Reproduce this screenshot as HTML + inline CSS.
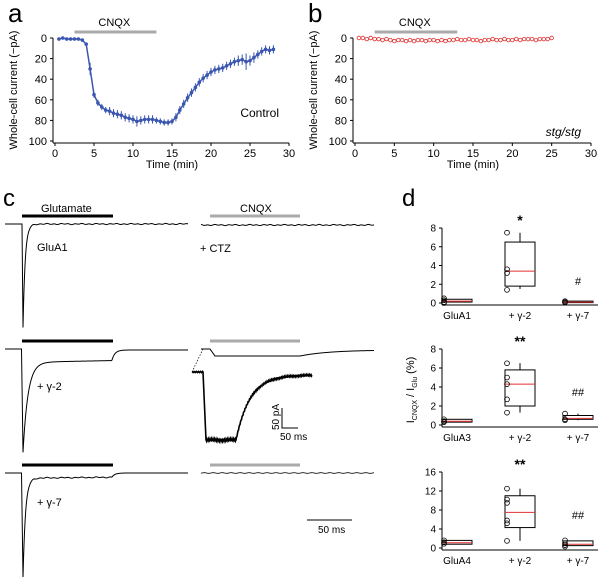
<!DOCTYPE html>
<html><head><meta charset="utf-8"><style>
body{margin:0;background:#fff}
svg{display:block;font-family:"Liberation Sans",sans-serif}
</style></head><body>
<svg id="fig" width="600" height="577" viewBox="0 0 600 577">
<g id="pa"></g>
<g id="pb"></g>
<g id="pc"></g>
<g id="pd"></g>
</svg>
<script>
const aTime=[0.5,1,1.5,2,2.5,3,3.5,4,4.5,5,5.5,6,6.5,7,7.5,8,8.5,9,9.5,10,10.5,11,11.5,12,12.5,13,13.5,14,14.5,15,15.5,16,16.5,17,17.5,18,18.5,19,19.5,20,20.5,21,21.5,22,22.5,23,23.5,24,24.5,25,25.5,26,26.5,27,27.5,28];
const aCurrent=[1,0,1,1,1,1,2,6,30,55,63,67,70,71,73,74,75,77,78,79,81,80,79,79,79,80,81,82,82,81,77,70,64,58,53,48,43,39,36,33,31,30,29,27,25,23,22,21,23,22,19,16,13,11,12,11];
const aErr=[1,1,1,1,1,1,1,1,6,3,3,3,3,4,4,4,4,4,4,4,5,4,4,4,4,3,3,3,3,3,4,4,4,4,4,4,4,4,4,4,4,4,4,4,4,4,5,5,8,5,5,4,4,4,4,4];
const bTime=[0.5,1,1.5,2,2.5,3,3.5,4,4.5,5,5.5,6,6.5,7,7.5,8,8.5,9,9.5,10,10.5,11,11.5,12,12.5,13,13.5,14,14.5,15,15.5,16,16.5,17,17.5,18,18.5,19,19.5,20,20.5,21,21.5,22,22.5,23,23.5,24,24.5,25];
const bCurrent=[0,0,1,0,1,1,2,1,2,3,2,2,3,2,3,2,2,3,2,2,3,2,3,2,2,1,2,2,1,2,2,3,2,2,1,2,2,1,2,2,1,2,1,1,1,2,1,1,1,0];
const timeTicks=[0,5,10,15,20,25,30];
const currTicks=[0,20,40,60,80,100];
const dCats=["GluA1","+ γ-2","+ γ-7"];
const dBaseLabels=["GluA1","GluA3","GluA4"];
const dBoxes=[ // [q1, median, q3, whiskerLo, whiskerHi]
 [[0.1,0.2,0.4,0.1,0.4],[1.8,3.4,6.5,1.5,7.5],[0.05,0.1,0.2,0.05,0.2]],
 [[0.3,0.4,0.6,0.3,0.6],[2.0,4.3,5.8,1.3,6.5],[0.6,0.7,1.0,0.5,1.2]],
 [[0.8,1.1,1.6,0.8,1.6],[4.3,7.5,11,1.5,12.5],[0.5,0.8,1.5,0.5,1.5]]];
const dPoints=[
 [[0.5,0.3,0.1,0.0],[7.5,3.6,3.2,1.4],[0.2,0.1,0.05]],
 [[0.6,0.4,0.3],[6.5,5.0,4.3,2.7,1.3],[1.2,0.6,0.5]],
 [[1.6,1.2,0.9],[12.5,10.2,9.5,5.8,5.2,1.5],[1.6,1.0,0.6,0.3]]];
const dMax=[8,8,16];
const dTicks=[[0,2,4,6,8],[0,2,4,6,8],[0,4,8,12,16]];
const dSig=[["","*","#"],["","**","##"],["","**","##"]];

const NS="http://www.w3.org/2000/svg";
function mk(parent,tag,attrs,name,text){const e=document.createElementNS(NS,tag);for(const k in attrs)e.setAttribute(k,attrs[k]);


if(text!==undefined)e.textContent=text;parent.appendChild(e);return e;}

function timePanel(g,x0,x1,letter,color,times,vals,errs,label,italic){
 const sx=t=>x0+(t/30)*(x1-x0), sy=v=>38+v*1.03;
 mk(g,'text',{x:x0-47,y:22,'font-size':26},'panel-letter',letter);
 mk(g,'line',{x1:x0-2,y1:sy(0),x2:x0-2,y2:143,stroke:'#000','stroke-width':1},'y-axis');
 mk(g,'line',{x1:x0-2,y1:143,x2:x1,y2:143,stroke:'#000','stroke-width':1},'x-axis');
 currTicks.forEach(v=>{mk(g,'line',{x1:x0-5,y1:sy(v),x2:x0-2,y2:sy(v),stroke:'#000'},'y-tick');
  mk(g,'text',{x:x0-8,y:sy(v)+4,'font-size':11,'text-anchor':'end'},'y-tick-label',v);});
 timeTicks.forEach(t=>{mk(g,'line',{x1:sx(t),y1:143,x2:sx(t),y2:146,stroke:'#000'},'x-tick');
  mk(g,'text',{x:sx(t),y:157,'font-size':11,'text-anchor':'middle'},'x-tick-label',t);});
 mk(g,'text',{x:(x0+x1)/2,y:168,'font-size':11,'text-anchor':'middle'},'x-axis-title','Time (min)');
 mk(g,'text',{x:0,y:0,'font-size':11,'text-anchor':'middle',transform:`translate(${x0-38},90) rotate(-90)`},'y-axis-title','Whole-cell current (−pA)');
 mk(g,'line',{x1:sx(2.5),y1:32,x2:sx(13),y2:32,stroke:'#aaa','stroke-width':3},'cnqx-bar');
 mk(g,'text',{x:sx(7.6),y:26,'font-size':11,'text-anchor':'middle'},'cnqx-label','CNQX');
 if(errs){
  times.forEach((t,i)=>{mk(g,'line',{x1:sx(t),y1:sy(vals[i]-errs[i]),x2:sx(t),y2:sy(vals[i]+errs[i]),stroke:color,'stroke-width':1},'error-bar');});
  mk(g,'polyline',{points:times.map((t,i)=>sx(t)+','+sy(vals[i])).join(' '),fill:'none',stroke:color,'stroke-width':1.5},'series-line');
  times.forEach((t,i)=>mk(g,'circle',{cx:sx(t),cy:sy(vals[i]),r:1.8,fill:color},'data-point'));
 } else {
  times.forEach((t,i)=>mk(g,'circle',{cx:sx(t),cy:sy(vals[i]),r:1.8,fill:'none',stroke:color,'stroke-width':0.8},'data-point'));
 }
 mk(g,'text',{x:x1-10,y:italic?136:117,'font-size':12,'text-anchor':'end','font-style':italic?'italic':'normal'},'condition-label',label);
}
timePanel(document.getElementById('pa'),55,289,'a','#3a56b0',aTime,aCurrent,aErr,'Control',false);
timePanel(document.getElementById('pb'),355,591,'b','#e03030',bTime,bCurrent,null,'stg/stg',true);

const pc=document.getElementById('pc');
mk(pc,'text',{x:3,y:206,'font-size':24},'panel-letter','c');
function trace(fn,x0,x1,w,name){let p='';for(let x=x0;x<=x1;x+=0.5){p+=(p?'L':'M')+x.toFixed(1)+','+fn(x).toFixed(2);}mk(pc,'path',{d:p,fill:'none',stroke:'#000','stroke-width':w},name);}
const rows=[224,349,473];
const rowLabels=["GluA1","+ γ-2","+ γ-7"];
rows.forEach((r,i)=>{
 mk(pc,'line',{x1:22,y1:r-8,x2:113,y2:r-8,stroke:'#000','stroke-width':3},'glutamate-bar');
 mk(pc,'line',{x1:210,y1:r-8,x2:300,y2:r-8,stroke:'#aaa','stroke-width':3},'cnqx-bar');
 mk(pc,'text',{x:37,y:[251,390,506][i],'font-size':11},'trace-label',rowLabels[i]);
});
const nz=x=>0.35*Math.sin(x*0.9)+0.25*Math.sin(x*0.37);
trace(x=>{if(x<22)return 224;if(x<23)return 224+103*(x-22);return 224+103*Math.exp(-(x-23)/2.2)+nz(x);},5,188,1,'trace-glua1');
trace(x=>{if(x<21.5)return 349;if(x<23)return 349+103*(x-21.5)/1.5;if(x<112)return 362-0.02*(x-40)+90*Math.exp(-(x-23)/5);return 350+10*Math.exp(-(x-112)/3);},5,188,1,'trace-gamma2');
trace(x=>{if(x<21.5)return 473;if(x<23)return 473+104*(x-21.5)/1.5;if(x<112)return 478-0.01*(x-35)+99*Math.exp(-(x-23)/2.5)+nz(x);return 473+4*Math.exp(-(x-112)/3);},5,188,1,'trace-gamma7');
trace(x=>225+nz(x),201,374,1,'trace-ctz-cnqx');
trace(x=>{if(x<210)return 349;if(x<215)return 349+7*(x-210)/5;if(x<300)return 356;return 356-6*(1-Math.exp(-(x-300)/30));},201,374,1,'trace-gamma2-cnqx');
trace(x=>473+0.3*Math.sin(x*0.7),201,374,0.8,'trace-gamma7-cnqx');
mk(pc,'line',{x1:192,y1:372,x2:203,y2:349,stroke:'#000','stroke-width':0.7,'stroke-dasharray':'1.5,1.5'},'zoom-connector');
trace(x=>{if(x<203)return 372+Math.sin(x*3)*0.6;if(x<206)return 372+68*(x-203)/3;if(x<236)return 440+Math.sin(x*4.3)*1.2;return 375+65*Math.exp(-(x-236)/14)+Math.sin(x*4.3)*0.8;},192,312,1.6,'inset-trace');
mk(pc,'path',{d:'M282,408 L282,428 L298,428',fill:'none',stroke:'#000','stroke-width':1},'scale-bar');
mk(pc,'text',{x:0,y:0,'font-size':10,transform:'translate(279,430) rotate(-90)'},'scale-label-pa','50 pA');
mk(pc,'text',{x:280,y:440,'font-size':10},'scale-label-ms','50 ms');
mk(pc,'line',{x1:307,y1:520,x2:352,y2:520,stroke:'#000','stroke-width':1},'scale-bar-ms');
mk(pc,'text',{x:318,y:533,'font-size':10},'scale-label-ms','50 ms');
mk(pc,'text',{x:41,y:212,'font-size':11},'glutamate-label','Glutamate');
mk(pc,'text',{x:240,y:212,'font-size':11},'cnqx-label','CNQX');
mk(pc,'text',{x:200,y:252,'font-size':11},'ctz-label','+ CTZ');

const pd=document.getElementById('pd');
mk(pd,'text',{x:402,y:206,'font-size':24},'panel-letter','d');
const sub=[[228,303],[349,425],[472,548]];
const cx=[457,520,578];
sub.forEach((s,k)=>{
 const sy=v=>s[1]-(v/dMax[k])*(s[1]-s[0]);
 mk(pd,'line',{x1:442,y1:s[0],x2:442,y2:s[1]+2,stroke:'#000'},'y-axis');
 mk(pd,'line',{x1:442,y1:s[1]+2,x2:598,y2:s[1]+2,stroke:'#000'},'x-axis');
 dTicks[k].forEach(v=>{mk(pd,'line',{x1:439,y1:sy(v),x2:442,y2:sy(v),stroke:'#000'},'y-tick');
  mk(pd,'text',{x:436,y:sy(v)+3.5,'font-size':10,'text-anchor':'end'},'y-tick-label',v);});
 dCats.forEach((c,j)=>{
  const b=dBoxes[k][j], w=15, x=cx[j];
  mk(pd,'line',{x1:x,y1:sy(b[4]),x2:x,y2:sy(b[3]),stroke:'#000'},'whisker');
  mk(pd,'rect',{x:x-w,y:sy(b[2]),width:2*w,height:Math.max(1.5,sy(b[0])-sy(b[2])),fill:'#fff',stroke:'#000','stroke-width':1},'box-'+j);
  mk(pd,'line',{x1:x-w,y1:sy(b[1]),x2:x+w,y2:sy(b[1]),stroke:'#e03030','stroke-width':1},'median-line');
  dPoints[k][j].forEach(v=>mk(pd,'circle',{cx:x-w+2,cy:sy(v),r:2.4,fill:'none',stroke:'#000','stroke-width':0.8},'data-point'));
  mk(pd,'text',{x:x,y:s[1]+16,'font-size':10,'text-anchor':'middle'},'category-label',j===0?dBaseLabels[k]:c);
  if(dSig[k][j])mk(pd,'text',{x:x,y:s[0]-3+(j===2?60:0)*(k===0?1:0.83),'font-size':j===1?14:11,'font-weight':j===1?'bold':'normal','text-anchor':'middle'},'significance-mark',dSig[k][j]);
 });
});
const yl=mk(pd,'text',{x:0,y:0,'font-size':11,'text-anchor':'middle',transform:'translate(414,390) rotate(-90)'},'y-axis-title','');
yl.innerHTML='I<tspan font-size="7" dy="3">CNQX</tspan><tspan dy="-3"> / I</tspan><tspan font-size="7" dy="3">Glu</tspan><tspan dy="-3"> (%)</tspan>';
</script>
</body></html>
